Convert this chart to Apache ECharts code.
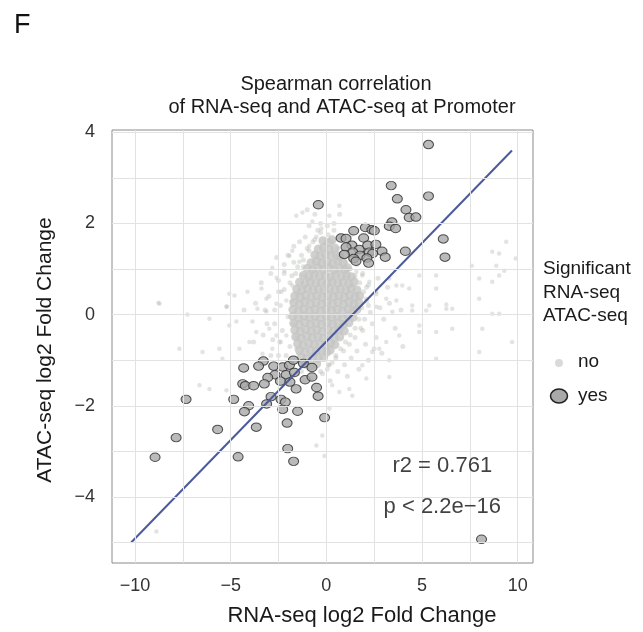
<!DOCTYPE html>
<html>
<head>
<meta charset="utf-8">
<script src="https://cdn.jsdelivr.net/npm/echarts@6/dist/echarts.min.js"></script>
<style>
html,body{margin:0;padding:0;background:#fff;}
#chart{width:643px;height:632px;}
</style>
</head>
<body>
<div id="chart"></div>
<script>
// ---- data ----
const xTicks = [-10, -5, 0, 5, 10];
const yTicks = [-4, -2, 0, 2, 4];
const xMinor = [-7.5, -2.5, 2.5, 7.5];
const yMinor = [-5, -3, -1, 1, 3];

// dense core of non-significant genes
const noCore = [
[-0.18,1.62],[0.1,1.58],[0.3,1.64],
[-0.42,1.44],[-0.14,1.47],[0.15,1.43],[0.45,1.46],
[-0.6,1.31],[-0.32,1.28],[-0.04,1.32],[0.25,1.29],[0.52,1.31],[0.7,1.27],
[-0.8,1.14],[-0.52,1.17],[-0.24,1.13],[0.05,1.16],[0.33,1.12],[0.6,1.17],[0.88,1.14],
[-1.0,1.01],[-0.72,0.98],[-0.44,1.02],[-0.15,0.99],[0.13,1.03],[0.42,0.98],[0.7,1.02],[0.96,0.99],[1.1,1.03],
[-1.2,0.86],[-0.92,0.83],[-0.63,0.87],[-0.35,0.84],[-0.06,0.86],[0.22,0.83],[0.5,0.87],[0.79,0.84],[1.06,0.86],[1.3,0.83],
[-1.4,0.71],[-1.12,0.68],[-0.83,0.72],[-0.55,0.69],[-0.26,0.71],[0.03,0.68],[0.31,0.72],[0.6,0.69],[0.88,0.71],[1.16,0.68],[1.45,0.72],
[-1.55,0.56],[-1.27,0.53],[-0.98,0.57],[-0.7,0.54],[-0.41,0.56],[-0.12,0.53],[0.17,0.57],[0.46,0.54],[0.74,0.56],[1.02,0.53],[1.3,0.57],[1.6,0.54],
[-1.65,0.41],[-1.37,0.38],[-1.08,0.42],[-0.79,0.39],[-0.5,0.41],[-0.21,0.38],[0.08,0.42],[0.37,0.39],[0.66,0.41],[0.94,0.38],[1.22,0.42],[1.5,0.39],[1.74,0.41],
[-1.7,0.26],[-1.41,0.23],[-1.12,0.27],[-0.83,0.24],[-0.54,0.26],[-0.25,0.23],[0.04,0.27],[0.33,0.24],[0.62,0.26],[0.9,0.23],[1.18,0.27],[1.45,0.24],[1.7,0.26],
[-1.75,0.11],[-1.46,0.08],[-1.17,0.12],[-0.88,0.09],[-0.59,0.11],[-0.3,0.08],[-0.01,0.12],[0.28,0.09],[0.57,0.11],[0.86,0.08],[1.14,0.12],[1.4,0.09],[1.6,0.11],
[-1.75,-0.04],[-1.46,-0.07],[-1.17,-0.03],[-0.88,-0.06],[-0.59,-0.04],[-0.3,-0.07],[-0.01,-0.03],[0.28,-0.06],[0.57,-0.04],[0.86,-0.07],[1.14,-0.03],[1.4,-0.06],
[-1.7,-0.19],[-1.41,-0.22],[-1.12,-0.18],[-0.83,-0.21],[-0.54,-0.19],[-0.25,-0.22],[0.04,-0.18],[0.33,-0.21],[0.62,-0.19],[0.9,-0.22],[1.18,-0.18],
[-1.65,-0.34],[-1.36,-0.37],[-1.07,-0.33],[-0.78,-0.36],[-0.49,-0.34],[-0.2,-0.37],[0.09,-0.33],[0.38,-0.36],[0.66,-0.34],[0.94,-0.36],
[-1.6,-0.49],[-1.31,-0.52],[-1.02,-0.48],[-0.73,-0.51],[-0.44,-0.49],[-0.15,-0.52],[0.14,-0.48],[0.42,-0.51],[0.7,-0.49],
[-1.5,-0.64],[-1.21,-0.67],[-0.92,-0.63],[-0.63,-0.66],[-0.34,-0.64],[-0.05,-0.67],[0.22,-0.63],[0.45,-0.66],
[-1.4,-0.79],[-1.11,-0.82],[-0.82,-0.78],[-0.53,-0.81],[-0.24,-0.79],[0.03,-0.82],[0.2,-0.78],
[-1.3,-0.94],[-1.01,-0.97],[-0.72,-0.93],[-0.43,-0.96],[-0.14,-0.94],
[-1.1,-1.09],[-0.8,-1.12],[-0.5,-1.08]
];

// halo around the core
const noHalo = [
[-1.6,0.9],[-1.9,0.7],[-2.2,0.55],[-1.7,1.15],[-1.3,1.3],[-1.0,1.45],[-0.7,1.6],[-0.45,1.85],[-1.2,1.05],[-1.5,0.45],
[-1.8,0.3],[-2.4,0.2],[-2.0,-0.05],[-1.75,-0.2],[-2.3,-0.35],[-1.6,-0.5],[-1.9,-0.7],[-1.45,-0.85],[-1.65,-1.0],[-2.5,0.75],
[-1.1,1.7],[-0.3,2.0],[0.1,1.75],[0.35,1.6],[0.6,1.45],[0.8,1.3],[1.0,1.15],[1.25,1.0],[1.5,0.85],[1.75,0.7],
[1.95,0.5],[2.1,0.3],[1.85,0.15],[2.3,0.05],[1.7,-0.1],[1.5,-0.3],[1.25,-0.45],[1.0,-0.6],[0.75,-0.75],[0.5,-0.9],
[0.3,-1.05],[0.05,-1.2],[-0.2,-1.3],[1.9,-0.35],[2.4,-0.2],[2.6,-0.5],[2.05,-0.65],[1.6,-0.8],[1.3,-0.95],[0.95,-1.1],
[0.6,-1.25],[2.8,0.15],[3.0,-0.1],[2.2,0.65],[2.6,0.45],[-0.9,-1.2],[-1.3,-1.25],[-1.8,-1.35],[-2.5,-0.9],[-2.8,-0.55],
[-3.1,-0.2],[-2.7,0.1],[-3.0,0.4],[-2.2,1.1],[-2.6,1.25],[-1.4,1.6],[-0.9,1.95],[-0.6,2.2],[0.4,2.0],[0.9,1.65],
[-3.4,0.7],[-3.7,0.25],[-3.3,-0.45],[3.3,0.25],[3.6,-0.3],[2.9,-0.85],[2.2,-1.0],[1.7,-1.2],[1.1,-1.35],[0.2,-1.45],[-0.55,-1.55],
[-2.2,0.9],[-2.5,0.5],[-2.7,-0.2],[-2.4,-0.6],[-2.1,-0.9],[-1.9,-1.15],[-1.5,-1.3],[-1.2,-1.45],[-0.8,-1.4],[-0.3,-1.25],
[0.1,-1.1],[0.5,-0.95],[0.9,-0.8],[1.2,-0.65],[1.5,-0.5],[1.8,-0.3],[2.0,-0.1],[2.2,0.2],[2.1,0.6],[1.9,0.9],
[1.6,1.1],[1.3,1.3],[1.0,1.5],[0.7,1.7],[0.4,1.85],[0.05,1.95],[-0.3,1.8],[-0.6,1.65],[-0.9,1.4],[-1.2,1.2],
[-1.5,1.05],[-1.8,0.85],[-2.0,1.3],[-1.7,1.5],[-2.9,0.9],[-3.2,0.1],[-2.9,-0.9],[2.5,-0.75],[2.7,0.8],[3.2,0.6],
[-1.0,2.3],[0.7,2.2],[1.3,1.75],[-3.8,-0.6],[-4.3,0.1],[4.0,-0.7],[3.9,0.1]
];

// scattered non-significant genes
const noSparse = [
[-8.77,0.26],[-1.25,2.24],[-1.57,2.17],[-2.82,1.03],[-2.6,0.81],[-2.19,0.96],[-4.12,0.5],[-5.07,0.46],[-5.2,0.18],[-3.39,0.57],
[-3.13,0.35],[-3.6,0.13],[-4.8,0.42],[-1.93,1.29],[-1.78,1.4],[-1.41,1.16],[-0.89,1.51],[-0.52,1.71],[-0.26,1.89],[-0.73,2.04],
[-1.25,0.86],[-1.78,0.64],[-2.35,0.5],[-2.61,0.24],[-2.09,0.31],[-3.13,0.07],
[0.68,2.39],[0.16,2.17],[9.4,1.6],[8.67,1.38],[9.03,1.34],[9.9,1.23],[8.88,1.07],[9.3,0.96],[7.6,1.07],[5.74,0.86],
[4.86,0.86],[7.99,0.35],[9.03,0.86],[8.67,0.72],[7.99,0.79],[3.29,0.79],[3.97,0.64],[4.33,0.57],[5.74,0.57],[4.49,0.2],
[5.22,0.09],[6.27,0.13],[9.03,0.02],[2.61,0.5],[3.13,0.35],[3.66,0.31],[2.25,0.72],[1.88,0.86],[1.57,0.94],[1.36,0.64],
[2.09,0.35],[3.66,0.64],
[2.61,0.17],[3.45,0.06],[4.49,0.09],[5.38,0.2],[6.27,0.22],[6.58,0.13],[8.67,0.02],[9.71,-0.6],[8.15,-0.31],[6.58,-0.31],
[5.74,-0.38],[4.86,-0.38],[4.86,-0.24],[3.81,-0.46],[3.13,-0.6],[2.77,-0.75],[2.4,-0.82],[3.29,-1.0],[5.74,-0.97],[7.99,-0.82],
[3.29,-1.37],[1.36,-1.78],[1.2,-1.63],[0.68,-1.7],[0.31,-1.55],[0.16,-1.11],[1.88,-1.11],[2.09,-1.4],[-0.21,-2.65],[-0.1,-3.1],
[0.16,-2.06],
[-8.72,0.24],[-7.26,0.0],[-5.22,0.17],[-4.7,-0.15],[-5.07,-0.24],[-6.11,-0.09],[-3.86,-0.15],[-3.66,-0.38],[-2.98,-0.31],[-4.02,-0.6],
[-4.54,-0.75],[-5.59,-0.75],[-6.47,-0.82],[-7.68,-0.75],[-5.43,-0.97],[-2.82,-0.75],[-3.34,-0.86],[-2.45,-0.6],[-2.09,-0.46],[-2.61,-0.46],
[-1.57,-0.75],[-6.63,-1.55],[-6.11,-1.63],[-5.22,-1.66],[-0.52,-2.87],[-8.88,-4.76]
];

// significant genes
const yesPts = [
[-0.42,2.41],[5.34,3.73],[3.39,2.83],[5.34,2.60],[3.71,2.54],[4.16,2.30],[4.33,2.13],[4.68,2.14],[3.43,2.03],[3.29,1.94],
[3.62,1.89],[1.43,1.84],[2.04,1.91],[2.38,1.86],[2.51,1.84],[0.77,1.68],[1.03,1.67],[1.95,1.68],[6.11,1.66],[1.34,1.52],
[1.03,1.48],[1.72,1.43],[2.16,1.52],[2.59,1.54],[2.25,1.37],[2.91,1.39],[1.38,1.37],[0.94,1.32],[1.76,1.30],[2.42,1.34],
[4.13,1.39],[3.08,1.26],[2.12,1.24],[1.43,1.23],[1.55,1.17],[2.21,1.13],[6.20,1.26],
[-3.29,-1.02],[-4.32,-1.17],[-3.54,-1.13],[-2.75,-1.13],[-2.28,-1.15],[-1.93,-1.11],[-1.72,-1.00],[-1.20,-1.07],[-0.75,-1.16],[-2.68,-1.32],
[-3.06,-1.38],[-2.10,-1.32],[-1.67,-1.27],[-1.11,-1.43],[-0.75,-1.37],[-2.40,-1.46],[-1.90,-1.48],[-3.24,-1.52],[-4.37,-1.52],[-4.23,-1.56],
[-3.80,-1.56],[-1.58,-1.63],[-0.51,-1.60],[-0.43,-1.79],[-2.89,-1.80],[-2.37,-1.86],[-2.14,-1.92],[-4.84,-1.86],[-7.33,-1.86],[-3.12,-1.96],
[-4.06,-2.00],[-4.28,-2.13],[-2.28,-2.08],[-1.50,-2.12],[-0.09,-2.26],[-3.66,-2.47],[-2.05,-2.38],[-5.68,-2.52],[-7.85,-2.70],[-2.02,-2.94],
[-4.61,-3.12],[-8.95,-3.13],[-1.71,-3.22],[8.11,-4.93]
];

// fitted line end points
const fitLine = [[-10.2,-5.0],[9.7,3.6]];

// annotation texts at data positions
const annotations = [[6.06,-3.33,'r2 = 0.761'],[6.06,-4.21,'p < 2.2e\u221216']];

const titleLines = ['Spearman correlation', 'of RNA-seq and ATAC-seq at Promoter'];
const xTitle = 'RNA-seq log2 Fold Change';
const yTitle = 'ATAC-seq log2 Fold Change';
const legendTitle = ['Significant', 'RNA-seq', 'ATAC-seq'];
const legendItems = ['no', 'yes'];

// ---- chart ----
const FONT = '"Liberation Sans", Arial, sans-serif';
const fmt = v => v < 0 ? '\u2212' + Math.abs(v) : String(v);
const chart = echarts.init(document.getElementById('chart'), null, {renderer: 'canvas'});

const gridLines = [];
xTicks.concat(xMinor).forEach(v => gridLines.push({xAxis: v}));
yTicks.concat(yMinor).forEach(v => gridLines.push({yAxis: v}));

const noColor = 'rgba(170,174,170,0.42)';

const option = {
  backgroundColor: '#ffffff',
  animation: false,
  grid: {left: 112, right: 110, top: 130, bottom: 69, show: true,
         borderColor: '#8a8a8a', borderWidth: 1, backgroundColor: '#ffffff'},
  xAxis: {
    type: 'value', min: -11.2, max: 10.8,
    axisLine: {show: false},
    splitLine: {show: false},
    axisTick: {show: true, customValues: xTicks, length: 5, lineStyle: {color: '#555'}},
    axisLabel: {customValues: xTicks, formatter: fmt, fontSize: 18, color: '#333',
                fontFamily: FONT, margin: 14}
  },
  yAxis: {
    type: 'value', min: -5.45, max: 4.05,
    axisLine: {show: false},
    splitLine: {show: false},
    axisTick: {show: true, customValues: yTicks, length: 5, lineStyle: {color: '#555'}},
    axisLabel: {customValues: yTicks, formatter: fmt, fontSize: 18, color: '#333',
                fontFamily: FONT, margin: 17}
  },
  series: [
    {
      type: 'scatter', data: [], silent: true, z: 1,
      markLine: {silent: true, symbol: 'none', label: {show: false},
                 lineStyle: {color: '#e2e2e2', width: 1, type: 'solid'},
                 data: gridLines, animation: false}
    },
    {name: 'no', type: 'scatter', data: noSparse, symbolSize: 4.5, silent: true, z: 2,
     itemStyle: {color: noColor}},
    {name: 'no', type: 'scatter', data: noHalo, symbolSize: 5, silent: true, z: 2,
     itemStyle: {color: noColor}},
    {name: 'no', type: 'scatter', data: noCore, symbolSize: 9, silent: true, z: 2,
     itemStyle: {color: '#c4c6c3'}},
    {name: 'yes', type: 'scatter', data: yesPts, symbol: 'circle', symbolSize: [10, 8.5], z: 3,
     itemStyle: {color: '#a9a9a9', borderColor: '#2a2a2a', borderWidth: 1}},
    {name: 'fit', type: 'line', data: fitLine, showSymbol: false, symbol: 'none', z: 4,
     lineStyle: {color: '#4a5a9c', width: 2}},
    {type: 'scatter', data: annotations, symbolSize: 1, z: 5, silent: true,
     itemStyle: {color: 'transparent'},
     label: {show: true, position: 'inside', formatter: p => p.data[2],
             fontSize: 22, color: '#111', fontFamily: FONT}}
  ],
  graphic: [
    {type: 'text', x: 14, y: 26, style: {text: 'F', fontSize: 27, fontFamily: FONT, fill: '#111',
      align: 'left', verticalAlign: 'middle'}},
    {type: 'text', x: 336, y: 84, style: {text: titleLines[0], fontSize: 20, fontFamily: FONT, fill: '#1a1a1a',
      align: 'center', verticalAlign: 'middle'}},
    {type: 'text', x: 342, y: 107, style: {text: titleLines[1], fontSize: 20, fontFamily: FONT, fill: '#1a1a1a',
      align: 'center', verticalAlign: 'middle'}},
    {type: 'text', x: 362, y: 616, style: {text: xTitle, fontSize: 22, fontFamily: FONT, fill: '#1a1a1a',
      align: 'center', verticalAlign: 'middle'}},
    {type: 'text', x: 45, y: 350, rotation: Math.PI / 2, style: {text: yTitle, fontSize: 21, fontFamily: FONT,
      fill: '#1a1a1a', align: 'center', verticalAlign: 'middle'}},
    {type: 'text', x: 543, y: 269, style: {text: legendTitle[0], fontSize: 19, fontFamily: FONT, fill: '#1a1a1a',
      align: 'left', verticalAlign: 'middle'}},
    {type: 'text', x: 543, y: 293, style: {text: legendTitle[1], fontSize: 19, fontFamily: FONT, fill: '#1a1a1a',
      align: 'left', verticalAlign: 'middle'}},
    {type: 'text', x: 543, y: 316, style: {text: legendTitle[2], fontSize: 19, fontFamily: FONT, fill: '#1a1a1a',
      align: 'left', verticalAlign: 'middle'}},
    {type: 'circle', shape: {cx: 559, cy: 363, r: 4}, style: {fill: '#d9dbd9'}},
    {type: 'text', x: 578, y: 362, style: {text: legendItems[0], fontSize: 19, fontFamily: FONT, fill: '#1a1a1a',
      align: 'left', verticalAlign: 'middle'}},
    {type: 'ellipse', shape: {cx: 559, cy: 396, rx: 8.5, ry: 7}, style: {fill: '#a9a9a9', stroke: '#222', lineWidth: 1.5}},
    {type: 'text', x: 578, y: 396, style: {text: legendItems[1], fontSize: 19, fontFamily: FONT, fill: '#1a1a1a',
      align: 'left', verticalAlign: 'middle'}}
  ]
};
chart.setOption(option);
</script>
</body>
</html>
